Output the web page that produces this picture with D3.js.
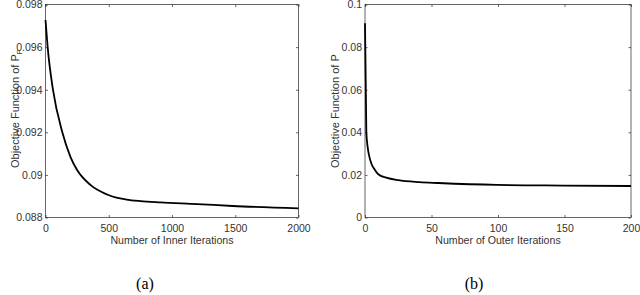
<!DOCTYPE html>
<html>
<head>
<meta charset="utf-8">
<script src="https://cdn.jsdelivr.net/npm/d3@7"></script>
<style>
  body { margin: 0; background: #fff; }
</style>
</head>
<body>
<div id="chart"></div>
<script>
// values
const innerIter = [0, 17, 59, 133, 197, 250, 355, 487, 560, 640, 750, 907, 1200, 1480, 2000];
const innerObj = [0.09727, 0.096, 0.094, 0.092, 0.09085, 0.09023, 0.08953, 0.08908, 0.08893, 0.08884, 0.08877, 0.08871, 0.08863, 0.08854, 0.08843];
const innerXTicks = [0, 500, 1000, 1500, 2000];
const innerYTicks = [0.088, 0.09, 0.092, 0.094, 0.096, 0.098];

const outerIter = [0, 1, 2, 3, 5, 7, 10, 16, 25, 41, 55, 99, 149, 200];
const outerObj = [0.0912, 0.040, 0.033, 0.0293, 0.0250, 0.0228, 0.0203, 0.0187, 0.0175, 0.0166, 0.0162, 0.0153, 0.0150, 0.0148];
const outerXTicks = [0, 50, 100, 150, 200];
const outerYTicks = [0, 0.02, 0.04, 0.06, 0.08, 0.1];

const width = 640, height = 295;
const sans = "'Liberation Sans', Arial, sans-serif";

const svg = d3.select("#chart").append("svg")
  .attr("width", width)
  .attr("height", height);

function panel(opt) {
  let x = d3.scaleLinear().domain(opt.xDomain).range([opt.left, opt.right]);
  let y = d3.scaleLinear().domain(opt.yDomain).range([217.5, 4.5]);
  let g = svg.append("g");
  let tickLen = 2.5;

  // box with inward ticks on every side (matlab style)
  g.append("rect")
    .attr("x", opt.left).attr("y", 4.5)
    .attr("width", opt.right - opt.left).attr("height", 213)
    .attr("fill", "none").attr("stroke", "#262626").attr("stroke-width", 0.7);

  g.append("g")
    .attr("transform", "translate(0,217.5)")
    .call(d3.axisBottom(x).tickValues(opt.xTicks).tickSize(-tickLen).tickPadding(7).tickFormat(d3.format("d")))
    .call(a => a.select(".domain").remove());
  g.append("g")
    .attr("transform", "translate(0,4.5)")
    .call(d3.axisTop(x).tickValues(opt.xTicks).tickSize(-tickLen).tickFormat(""))
    .call(a => a.select(".domain").remove());
  g.append("g")
    .attr("transform", `translate(${opt.left},0)`)
    .call(d3.axisLeft(y).tickValues(opt.yTicks).tickSize(-tickLen).tickPadding(3).tickFormat(d => String(+d.toFixed(4))))
    .call(a => a.select(".domain").remove());
  g.append("g")
    .attr("transform", `translate(${opt.right},0)`)
    .call(d3.axisRight(y).tickValues(opt.yTicks).tickSize(-tickLen).tickFormat(""))
    .call(a => a.select(".domain").remove());

  g.selectAll(".tick line").attr("stroke", "#262626").attr("stroke-width", 0.7);
  g.selectAll(".tick text")
    .attr("fill", "#333")
    .style("font-size", "10.5px")
    .style("font-family", sans);

  let line = d3.line()
    .x((d, i) => x(opt.xs[i]))
    .y(d => y(d))
    .curve(d3.curveMonotoneX);

  g.append("path")
    .datum(opt.ys)
    .attr("d", line)
    .attr("fill", "none")
    .attr("stroke", "#000")
    .attr("stroke-width", 1.8);

  // axis titles
  g.append("text")
    .attr("x", (opt.left + opt.right) / 2)
    .attr("y", 244)
    .attr("text-anchor", "middle")
    .attr("fill", "#333")
    .style("font-family", sans)
    .style("font-size", "10.6px")
    .text(opt.xLabel);

  let yl = g.append("text")
    .attr("transform", `translate(${opt.left - 26.5},${opt.yStart}) rotate(-90)`)
    .attr("text-anchor", "start")
    .attr("fill", "#333")
    .style("font-family", sans)
    .style("font-size", "11px")
    .text(opt.yLabel);
  if (opt.sub) {
    yl.append("tspan").attr("dy", 3).style("font-size", "7.5px").text(opt.sub);
  }

  g.append("text")
    .attr("x", opt.capX)
    .attr("y", 289)
    .attr("text-anchor", "middle")
    .attr("fill", "#000")
    .style("font-family", "'Liberation Serif', 'Times New Roman', serif")
    .style("font-size", "16px")
    .text(opt.caption);
}

panel({
  left: 45.5, right: 298.5,
  xDomain: [0, 2000], yDomain: [0.088, 0.098],
  xTicks: innerXTicks, yTicks: innerYTicks,
  xs: innerIter, ys: innerObj,
  xLabel: "Number of Inner Iterations",
  yLabel: "Objective Function of P", sub: "F", yStart: 168,
  caption: "(a)", capX: 145
});

panel({
  left: 365, right: 631,
  xDomain: [0, 200], yDomain: [0, 0.1],
  xTicks: outerXTicks, yTicks: outerYTicks,
  xs: outerIter, ys: outerObj,
  xLabel: "Number of Outer Iterations",
  yLabel: "Objective Function of P", yStart: 168,
  caption: "(b)", capX: 474
});
</script>
</body>
</html>
